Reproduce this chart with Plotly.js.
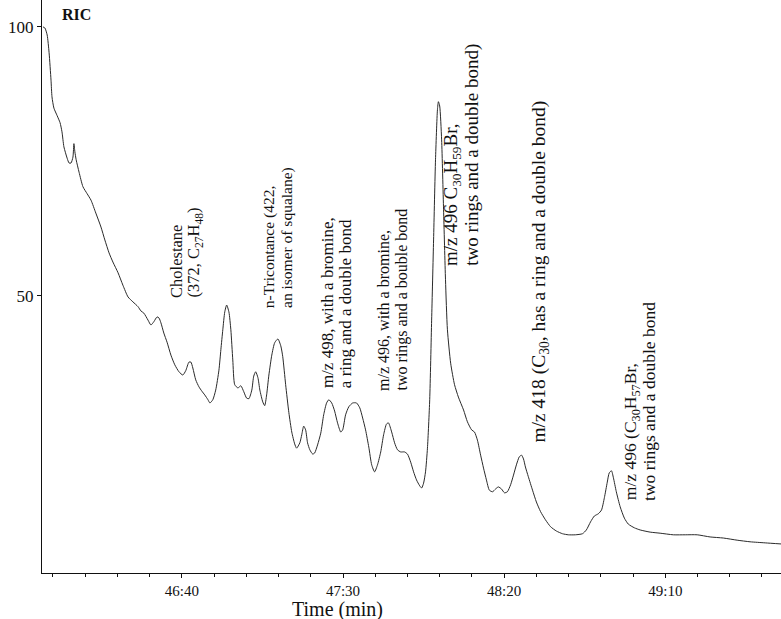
<!DOCTYPE html>
<html>
<head>
<meta charset="utf-8">
<script src="https://cdn.plot.ly/plotly-3.0.1.min.js"></script>
<style>
  html, body { margin: 0; padding: 0; background: #fff; }
  #chart { width: 781px; height: 619px; }
</style>
</head>
<body>
<div id="chart"></div>
<script>
// Reconstructed ion chromatogram (RIC), retention time in seconds
const timeSec = [
  2756.9, 2757.5, 2758.2, 2758.8, 2759.4, 2759.7, 2760.3, 2761.3, 2762.2, 2762.8,
  2763.4, 2764.4, 2765.0, 2765.6, 2766.2, 2766.5, 2766.8, 2767.2, 2768.1, 2769.3,
  2770.6, 2771.8, 2773.3, 2774.9, 2776.1, 2777.4, 2778.6, 2780.2, 2781.7, 2783.3,
  2784.8, 2786.4, 2787.3, 2788.2, 2789.5, 2790.4, 2791.3, 2792.3, 2792.9, 2793.5,
  2794.4, 2795.4, 2796.6, 2797.8, 2799.1, 2800.3, 2801.2, 2802.2, 2802.8, 2803.4,
  2804.3, 2805.3, 2806.2, 2807.1, 2808.1, 2808.7, 2809.6, 2810.5, 2811.5, 2812.1,
  2812.7, 2813.3, 2813.9, 2814.6, 2815.2, 2815.8, 2816.4, 2817.4, 2818.3, 2819.2,
  2820.1, 2820.8, 2821.7, 2822.3, 2822.9, 2823.6, 2824.2, 2825.1, 2825.7, 2826.3,
  2827.0, 2827.9, 2828.8, 2829.8, 2830.7, 2831.3, 2832.2, 2833.2, 2834.1, 2835.0,
  2835.6, 2836.6, 2837.2, 2837.8, 2838.4, 2839.0, 2839.7, 2840.6, 2841.2, 2842.1,
  2843.1, 2844.0, 2844.9, 2845.6, 2846.5, 2847.4, 2848.3, 2849.3, 2849.9, 2850.8,
  2851.8, 2853.0, 2854.2, 2855.2, 2856.1, 2857.0, 2858.0, 2858.9, 2859.8, 2860.7,
  2861.7, 2862.6, 2863.5, 2864.1, 2865.1, 2866.0, 2866.9, 2867.9, 2869.1, 2870.0,
  2871.0, 2871.9, 2872.8, 2873.8, 2874.4, 2875.0, 2875.6, 2876.2, 2876.9, 2877.5,
  2878.1, 2878.7, 2879.3, 2879.6, 2880.0, 2880.6, 2881.2, 2881.8, 2882.4, 2883.4,
  2884.6, 2885.8, 2887.4, 2888.6, 2889.9, 2890.8, 2891.7, 2892.7, 2893.6, 2894.5,
  2895.4, 2896.4, 2897.3, 2898.2, 2899.2, 2900.1, 2901.0, 2902.0, 2902.9, 2903.8,
  2904.7, 2905.4, 2906.0, 2906.6, 2907.5, 2908.8, 2910.0, 2911.3, 2912.8, 2914.4,
  2916.2, 2918.1, 2919.9, 2922.1, 2924.3, 2925.5, 2926.8, 2928.0, 2929.2, 2930.2,
  2931.1, 2932.0, 2932.6, 2933.3, 2933.9, 2934.8, 2936.0, 2937.3, 2938.5, 2940.4,
  2942.2, 2945.3, 2948.4, 2952.5, 2956.2, 2959.9, 2963.9, 2968.0, 2972.3, 2976.3,
  2981.0, 2985.9
];

// Relative abundance (%)
const intensity = [
  100.0, 99.8, 98.5, 95.2, 90.1, 87.0, 84.9, 83.5, 82.2, 80.5,
  77.7, 75.6, 74.7, 74.7, 75.8, 78.3, 76.8, 75.3, 73.0, 70.3,
  69.0, 67.8, 65.4, 62.8, 60.4, 58.0, 56.3, 54.3, 52.0, 49.8,
  48.9, 48.0, 47.2, 46.8, 45.5, 44.6, 45.2, 46.1, 45.9, 45.0,
  43.1, 41.4, 39.0, 37.2, 35.9, 35.3, 36.1, 37.7, 37.7, 36.6,
  34.4, 33.1, 32.3, 31.6, 30.7, 30.1, 30.7, 32.5, 36.2, 40.0,
  43.7, 47.0, 48.3, 47.0, 43.7, 38.1, 33.5, 32.9, 33.3, 32.2,
  31.0, 30.9, 32.5, 35.1, 35.9, 34.8, 32.5, 30.3, 29.6, 31.6,
  35.3, 39.0, 41.3, 42.0, 40.7, 38.7, 33.5, 28.3, 24.7, 22.5,
  21.7, 22.7, 24.2, 25.8, 25.1, 22.7, 21.4, 20.6, 20.8, 22.3,
  24.5, 27.9, 30.1, 30.7, 30.1, 28.6, 26.4, 24.7, 25.1, 27.9,
  29.4, 30.1, 30.1, 29.2, 27.3, 25.1, 21.9, 18.6, 17.3, 18.6,
  21.0, 24.2, 26.2, 26.4, 24.7, 22.7, 21.4, 21.0, 21.0, 20.6,
  19.1, 17.3, 15.8, 14.7, 14.3, 15.2, 17.3, 21.7, 30.7, 45.5,
  60.4, 75.3, 84.6, 86.1, 85.3, 79.0, 66.0, 53.0, 43.7, 37.5,
  33.5, 31.2, 28.8, 26.6, 25.1, 24.7, 23.2, 20.4, 18.0, 15.8,
  13.9, 13.6, 14.1, 14.5, 14.1, 13.4, 13.6, 14.9, 16.7, 18.6,
  20.1, 20.4, 19.7, 18.2, 16.4, 13.9, 11.7, 9.9, 8.4, 7.1,
  6.3, 5.8, 5.6, 5.6, 5.8, 6.5, 8.0, 9.1, 9.5, 10.2,
  12.5, 15.4, 17.1, 17.5, 16.2, 13.6, 10.8, 8.7, 7.6, 6.9,
  6.5, 6.1, 5.9, 5.6, 5.6, 5.6, 5.2, 5.0, 4.6, 4.3,
  4.1, 3.9
];

// Time axis labels (min:s)
const timeTickVals = [2800, 2850, 2900, 2950];
const timeTickText = ['46:40', '47:30', '48:20', '49:10'];

// Abundance axis labels
const levelTickVals = [50, 100];
const levelTickText = ['50', '100'];

// Peak assignments, one entry per printed line
const peakLines = [
  'Cholestane',
  '(372, C<sub>27</sub>H<sub>48</sub>)',
  'n-Tricontance (422,',
  'an isomer of squalane)',
  'm/z 498, with a bromine,',
  'a ring and a double bond',
  'm/z 496, with a bromine,',
  'two rings and a bouble bond',
  'm/z 496 C<sub>30</sub>H<sub>59</sub>Br,',
  'two rings and a double bond)',
  'm/z 418 (C<sub>30</sub>, has a ring and a double bond)',
  'm/z 496 (C<sub>30</sub>H<sub>57</sub>Br,',
  'two rings and a double bond'
];

// Where each line sits: [time at its centre, abundance at its foot, font size]
const linePlacement = [
  [2798.1, 49.3, 16.5], [2803.7, 49.3, 16.5],
  [2827.3, 47.4, 15.5], [2832.8, 47.4, 15.5],
  [2845.2, 32.5, 17], [2850.8, 32.5, 17],
  [2862.6, 32.0, 16], [2868.2, 32.0, 16],
  [2884.0, 55.2, 19], [2890.0, 55.2, 19],
  [2911.0, 22.3, 19.5],
  [2939.4, 11.6, 17.5], [2944.9, 11.6, 17.5]
];

const serif = 'Liberation Serif, Times New Roman, serif';
const ink = '#111111';

const annotations = peakLines.map((txt, i) => ({
  text: txt,
  x: linePlacement[i][0],
  y: linePlacement[i][1],
  xref: 'x', yref: 'y',
  textangle: -90,
  xanchor: 'center',
  yanchor: 'bottom',
  showarrow: false,
  font: { family: serif, size: linePlacement[i][2], color: ink }
}));

annotations.push({
  text: '<b>RIC</b>', x: 2767.2, y: 102.3, xref: 'x', yref: 'y',
  xanchor: 'center', yanchor: 'middle', showarrow: false,
  font: { family: serif, size: 16, color: ink }
});

annotations.push({
  text: 'Time (min)', x: 2848.3, y: -0.063, xref: 'x', yref: 'paper',
  xanchor: 'center', yanchor: 'middle', showarrow: false,
  font: { family: serif, size: 20, color: ink }
});

const trace = {
  x: timeSec,
  y: intensity,
  type: 'scatter',
  mode: 'lines',
  line: { color: '#2a2a2a', width: 1, shape: 'spline', smoothing: 0.6 },
  hoverinfo: 'skip'
};

const layout = {
  width: 781,
  height: 619,
  margin: { l: 42, r: 0, t: 0, b: 46 },
  paper_bgcolor: '#ffffff',
  plot_bgcolor: '#ffffff',
  showlegend: false,
  xaxis: {
    range: [2756.6, 2985.9],
    tickmode: 'array',
    tickvals: timeTickVals,
    ticktext: timeTickText,
    ticks: 'outside',
    ticklen: 4,
    tickwidth: 1,
    tickcolor: ink,
    showline: true,
    linecolor: ink,
    linewidth: 1,
    showgrid: false,
    zeroline: false,
    minor: { tickmode: 'linear', tick0: 2800, dtick: 10, ticks: 'outside', ticklen: 3, tickcolor: ink, showgrid: false },
    tickfont: { family: serif, size: 15, color: ink }
  },
  yaxis: {
    range: [-1.5, 105],
    tickmode: 'array',
    tickvals: levelTickVals,
    ticktext: levelTickText,
    ticks: 'outside',
    ticklen: 4,
    tickwidth: 1,
    tickcolor: ink,
    showline: true,
    linecolor: ink,
    linewidth: 1,
    showgrid: false,
    zeroline: false,
    tickfont: { family: serif, size: 17, color: ink }
  },
  annotations: annotations
};

Plotly.newPlot('chart', [trace], layout, { staticPlot: true, displayModeBar: false });
</script>
</body>
</html>
